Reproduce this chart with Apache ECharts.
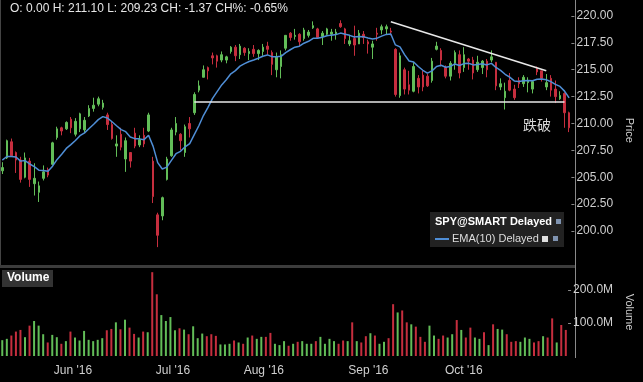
<!DOCTYPE html>
<html><head><meta charset="utf-8">
<script src="https://cdn.jsdelivr.net/npm/echarts@6/dist/echarts.min.js"></script>
<style>html,body{margin:0;padding:0;background:#000;}#c{width:643px;height:382px;}</style>
</head><body><div id="c"></div>
<script>
const dates = [
'2016-05-09','2016-05-10','2016-05-11','2016-05-12','2016-05-13','2016-05-16','2016-05-17','2016-05-18','2016-05-19','2016-05-20','2016-05-23','2016-05-24','2016-05-25','2016-05-26','2016-05-27','2016-05-31',
'2016-06-01','2016-06-02','2016-06-03','2016-06-06','2016-06-07','2016-06-08','2016-06-09','2016-06-10','2016-06-13','2016-06-14','2016-06-15','2016-06-16','2016-06-17','2016-06-20','2016-06-21','2016-06-22','2016-06-23','2016-06-24','2016-06-27','2016-06-28','2016-06-29','2016-06-30',
'2016-07-01','2016-07-05','2016-07-06','2016-07-07','2016-07-08','2016-07-11','2016-07-12','2016-07-13','2016-07-14','2016-07-15','2016-07-18','2016-07-19','2016-07-20','2016-07-21','2016-07-22','2016-07-25','2016-07-26','2016-07-27','2016-07-28','2016-07-29',
'2016-08-01','2016-08-02','2016-08-03','2016-08-04','2016-08-05','2016-08-08','2016-08-09','2016-08-10','2016-08-11','2016-08-12','2016-08-15','2016-08-16','2016-08-17','2016-08-18','2016-08-19','2016-08-22','2016-08-23','2016-08-24','2016-08-25','2016-08-26','2016-08-29','2016-08-30','2016-08-31',
'2016-09-01','2016-09-02','2016-09-06','2016-09-07','2016-09-08','2016-09-09','2016-09-12','2016-09-13','2016-09-14','2016-09-15','2016-09-16','2016-09-19','2016-09-20','2016-09-21','2016-09-22','2016-09-23','2016-09-26','2016-09-27','2016-09-28','2016-09-29','2016-09-30',
'2016-10-03','2016-10-04','2016-10-05','2016-10-06','2016-10-07','2016-10-10','2016-10-11','2016-10-12','2016-10-13','2016-10-14','2016-10-17','2016-10-18','2016-10-19','2016-10-20','2016-10-21','2016-10-24','2016-10-25','2016-10-26','2016-10-27','2016-10-28','2016-10-31',
'2016-11-01','2016-11-02'];

const open = [
205.6,206.8,208.3,207.3,206.6,205.0,206.5,204.4,203.6,204.9,205.7,206.2,208.7,209.6,209.5,210.4,
209.0,209.5,209.4,210.7,211.4,211.8,211.5,210.8,209.9,207.9,209.0,206.7,207.3,209.1,208.0,208.9,209.3,206.5,201.5,201.4,204.8,207.0,
209.2,209.0,207.3,210.0,211.0,213.1,214.3,215.2,216.3,216.3,215.9,215.9,216.7,217.1,216.4,217.0,216.5,216.9,216.5,216.7,
217.2,216.6,215.0,215.3,217.0,218.4,218.1,218.3,217.9,218.2,218.9,218.8,218.1,218.3,218.3,218.3,219.3,218.8,217.4,217.9,217.4,218.3,217.6,
217.1,218.4,218.7,218.8,218.6,216.9,212.6,215.0,213.6,213.0,214.2,214.5,214.4,214.0,216.9,216.8,215.2,214.4,215.6,216.4,215.2,
216.0,215.9,215.0,215.2,215.8,215.9,215.7,213.4,212.4,214.0,213.2,214.0,213.7,213.8,213.2,215.1,214.9,213.4,214.2,213.2,212.3,
212.8,211.0];

const close = [
205.9,208.4,207.0,206.6,204.8,206.8,204.8,204.9,204.2,205.5,205.2,208.2,209.5,209.3,210.1,209.6,
210.2,210.9,210.3,211.4,211.7,212.3,211.9,209.9,208.6,208.1,207.8,208.4,206.5,207.9,208.5,208.1,210.8,203.2,199.6,203.1,206.7,209.4,
210.0,208.4,209.7,209.5,212.7,213.5,215.0,214.9,216.1,215.8,216.4,216.2,217.1,216.3,217.2,216.6,216.7,216.5,216.8,217.1,
216.9,215.5,216.2,216.4,218.2,218.0,218.2,217.6,218.7,218.5,219.1,218.0,218.4,218.8,218.5,218.5,219.0,217.9,217.7,217.3,218.4,218.0,217.4,
217.4,218.3,219.0,219.0,218.5,212.7,216.3,213.2,213.1,215.3,213.4,213.4,213.5,215.8,217.2,215.9,214.4,215.6,216.6,214.7,216.4,
215.8,214.7,215.7,215.8,215.0,216.2,213.5,213.7,213.0,213.1,212.4,213.7,214.3,214.0,213.9,214.8,214.2,213.8,213.1,212.5,212.6,
211.0,209.6];

const high = [
206.4,208.5,208.6,207.4,206.9,207.3,206.8,206.3,204.6,206.1,205.9,208.3,209.7,209.7,210.2,210.6,
210.5,211.0,210.6,211.7,212.4,212.5,212.2,211.0,210.2,208.9,209.6,208.7,207.3,209.6,208.9,209.6,211.0,206.9,201.7,203.2,206.9,209.6,
210.6,209.1,209.9,210.6,212.9,214.0,215.4,215.3,216.6,216.4,216.7,216.3,217.2,217.3,217.4,217.1,217.0,217.3,216.9,217.4,
217.6,216.8,216.6,216.8,218.2,218.5,218.8,218.4,218.9,218.7,219.5,218.9,218.6,218.9,218.8,218.8,219.6,218.9,218.2,219.1,218.7,218.6,217.8,
217.7,218.9,219.2,219.2,218.9,217.0,216.6,215.2,214.9,215.7,214.5,214.9,214.6,216.1,217.6,217.0,215.4,215.8,216.8,216.8,217.1,
216.1,216.2,216.3,215.9,216.0,216.8,215.7,214.2,213.8,214.7,213.6,214.3,214.5,214.3,214.0,215.3,214.9,214.6,214.5,214.0,213.0,
212.9,211.1];

const low = [
205.3,206.7,206.9,205.4,204.5,204.9,204.1,203.3,202.7,204.7,205.0,206.1,208.5,208.9,209.4,209.1,
208.8,209.2,209.1,210.6,211.1,211.6,211.3,209.4,208.5,206.9,207.5,205.5,205.9,207.7,207.8,207.8,209.2,202.6,198.5,201.0,204.7,206.9,
208.9,207.5,206.9,208.7,210.8,212.9,214.3,214.1,215.5,215.2,215.7,215.6,216.5,215.8,216.0,216.3,215.9,216.2,215.9,216.3,
216.4,214.5,214.3,214.2,216.8,217.7,217.8,217.2,217.7,218.0,218.8,217.9,217.3,218.2,217.7,217.8,218.9,217.4,217.2,216.3,217.4,217.4,216.5,
216.0,217.7,218.3,218.3,218.2,212.5,212.4,212.7,212.7,212.9,212.8,213.0,213.4,213.8,216.8,215.3,214.2,214.0,215.0,214.2,214.8,
215.0,214.1,214.8,214.6,214.3,215.7,213.1,213.1,211.3,213.0,212.2,213.3,213.4,212.9,212.8,214.5,213.9,213.1,212.5,211.9,212.2,
209.6,209.2];

// EMA(10)
const ema10 = [
206.6,206.93,206.94,206.88,206.5,206.55,206.23,205.99,205.66,205.63,205.55,206.03,206.66,207.14,207.68,208.03,
208.42,208.87,209.13,209.54,209.93,210.36,210.64,210.51,210.16,209.79,209.43,209.24,208.74,208.59,208.57,208.49,208.91,207.87,206.36,205.77,205.94,206.57,
207.19,207.41,207.83,208.13,208.96,209.79,210.74,211.5,212.34,212.97,213.59,214.07,214.62,214.92,215.34,215.57,215.77,215.91,216.07,216.26,
216.38,216.22,216.21,216.25,216.6,216.86,217.1,217.19,217.47,217.65,217.92,217.93,218.02,218.16,218.22,218.27,218.41,218.31,218.2,218.04,218.1,218.08,217.96,
217.86,217.94,218.13,218.29,218.33,217.31,217.13,216.41,215.81,215.72,215.3,214.95,214.69,214.89,215.31,215.42,215.23,215.3,215.54,215.39,215.57,
215.61,215.45,215.49,215.55,215.45,215.59,215.21,214.94,214.58,214.31,213.96,213.91,213.98,213.99,213.97,214.12,214.14,214.07,213.9,213.64,213.45,
213.01,212.39];

// volume in millions
const volume = [
48,52,62,74,79,57,92,106,92,66,41,64,57,37,45,74,
56,47,76,49,45,49,54,78,82,102,81,110,86,67,56,74,72,254,187,124,106,118,
78,84,80,66,90,54,68,60,66,61,35,35,37,47,41,37,56,62,52,58,
58,70,37,33,45,31,37,43,45,37,37,45,58,37,52,45,37,47,45,102,45,41,60,
69,62,37,43,54,157,132,138,102,96,89,58,43,92,62,52,62,56,66,109,79,
56,86,56,52,72,33,96,82,80,66,43,45,43,56,52,41,45,60,56,114,41,
94,79];

const priceTicks = [200, 202.5, 205, 207.5, 210, 212.5, 215, 217.5, 220];
const volumeTicks = [100, 200];
const monthTickDates = ['2016-06-01','2016-07-01','2016-08-01','2016-09-01','2016-10-03'];
const monthTickLabels = ["Jun '16","Jul '16","Aug '16","Sep '16","Oct '16"];

// annotations: [date, price]
const supportLine = [['2016-07-08', 212.05], ['2016-11-01', 212.05]];
const resistanceLine = [['2016-09-08', 219.47], ['2016-10-26', 214.9]];
const breakNote = ['2016-10-24', 209.86, '跌破'];
const headerText = 'O: 0.00 H: 211.10 L: 209.23 CH: -1.37 CH%: -0.65%';

const UP = '#62bd58', DOWN = '#c62e3e';
const FONT = '"Liberation Sans", Arial, sans-serif';

const candleData = dates.map((d, i) => [open[i], close[i], low[i], high[i]]);
const volData = volume.map((v, i) => ({value: v, itemStyle: {color: close[i] >= open[i] ? UP : DOWN}}));

const chart = echarts.init(document.getElementById('c'), null, {renderer: 'canvas'});
chart.setOption({
  backgroundColor: '#000',
  animation: false,
  textStyle: {fontFamily: FONT},
  grid: [
    {left: 0, right: 68, top: 2.56, height: 255.31},
    {left: 0, right: 68, top: 268, height: 88}
  ],
  xAxis: [
    {type: 'category', gridIndex: 0, data: dates, boundaryGap: true,
     axisLine: {show: false}, axisTick: {show: false}, axisLabel: {show: false}, splitLine: {show: false}},
    {type: 'category', gridIndex: 1, data: dates, boundaryGap: true,
     axisLine: {show: false}, axisTick: {show: false}, splitLine: {show: false},
     axisLabel: {
       show: true, color: '#cfcfcf', fontSize: 12, fontFamily: FONT, margin: 9, padding: [0, 4, 0, 0],
       interval: (idx, val) => monthTickDates.indexOf(val) >= 0,
       formatter: (val) => { const k = monthTickDates.indexOf(val); return k >= 0 ? monthTickLabels[k] : ''; }
     }}
  ],
  yAxis: [
    {type: 'value', gridIndex: 0, position: 'right', min: 197.5, max: 221.25, interval: 2.5,
     axisLine: {show: false}, splitLine: {show: false},
     axisTick: {show: true, length: 3, lineStyle: {color: '#8a8a8a'}, customValues: priceTicks},
     axisLabel: {color: '#cfcfcf', fontSize: 12, fontFamily: FONT, margin: 5, customValues: priceTicks,
       formatter: v => (v >= 200 && v <= 220) ? v.toFixed(2) : ''},
     name: 'Price', nameLocation: 'middle', nameRotate: -90, nameGap: 50,
     nameTextStyle: {color: '#cfcfcf', fontSize: 11, fontFamily: FONT}},
    {type: 'value', gridIndex: 1, position: 'right', min: 0, max: 266.67, interval: 100,
     axisLine: {show: false}, splitLine: {show: false},
     axisTick: {show: true, length: 3, lineStyle: {color: '#8a8a8a'}, customValues: volumeTicks},
     axisLabel: {color: '#cfcfcf', fontSize: 12, fontFamily: FONT, margin: 5, customValues: volumeTicks,
       formatter: v => (v === 100 || v === 200) ? v.toFixed(1) + 'M' : ''},
     name: 'Volume', nameLocation: 'middle', nameRotate: -90, nameGap: 50,
     nameTextStyle: {color: '#cfcfcf', fontSize: 11, fontFamily: FONT}}
  ],
  series: [
    {type: 'candlestick', xAxisIndex: 0, yAxisIndex: 0, data: candleData, barWidth: 2,
     itemStyle: {color: UP, color0: DOWN, borderColor: UP, borderColor0: DOWN, borderWidth: 1},
     markLine: {silent: true, symbol: ['none', 'none'], label: {show: false},
       lineStyle: {color: '#e8e8e8', width: 1.5, type: 'solid'},
       emphasis: {disabled: true},
       data: [
         [{coord: supportLine[0]}, {coord: supportLine[1]}],
         [{coord: resistanceLine[0]}, {coord: resistanceLine[1]}]
       ]},
     markPoint: {silent: true, symbol: 'rect', symbolSize: 1, itemStyle: {color: 'rgba(0,0,0,0)'},
       label: {show: true, position: 'inside', formatter: breakNote[2], color: '#d8d8d8', fontSize: 14,
         fontFamily: '"Noto Sans CJK SC", sans-serif'},
       data: [{coord: [breakNote[0], breakNote[1]]}]}
    },
    {type: 'line', xAxisIndex: 0, yAxisIndex: 0, data: ema10, symbol: 'none', smooth: false,
     lineStyle: {color: '#4f8ed6', width: 1.5}, z: 3},
    {type: 'bar', xAxisIndex: 1, yAxisIndex: 1, data: volData, barWidth: 2}
  ],
  graphic: [
    {type: 'text', left: 10, top: 3, style: {text: headerText, fill: '#e6e6e6', font: '12px ' + FONT}},
    {type: 'rect', shape: {x: 0, y: 265, width: 575, height: 3}, style: {fill: '#3c3c3c'}},
    {type: 'line', shape: {x1: 0.5, y1: 0, x2: 0.5, y2: 265}, style: {stroke: '#444', lineWidth: 1}},
    {type: 'line', shape: {x1: 575.5, y1: 0, x2: 575.5, y2: 358}, style: {stroke: '#8a8a8a', lineWidth: 1}},
    {type: 'rect', shape: {x: 2, y: 270, width: 51, height: 17}, style: {fill: '#333'}},
    {type: 'text', left: 7, top: 272, style: {text: 'Volume', fill: '#fff', font: 'bold 12px ' + FONT}},
    {type: 'rect', shape: {x: 430, y: 212, width: 134, height: 35}, style: {fill: '#222222'}},
    {type: 'text', left: 435, top: 216, style: {text: 'SPY@SMART Delayed', fill: '#ffffff', font: 'bold 11px ' + FONT}},
    {type: 'polygon', shape: {points: [[556,219],[561,219],[561,224],[556,224]]}, style: {fill: '#7f93b0'}},
    {type: 'line', shape: {x1: 435, y1: 239, x2: 449, y2: 239}, style: {stroke: '#4f8ed6', lineWidth: 2}},
    {type: 'text', left: 452, top: 233, style: {text: 'EMA(10) Delayed', fill: '#dddddd', font: '11px ' + FONT}},
    {type: 'rect', shape: {x: 542, y: 236, width: 6, height: 6}, style: {fill: '#e0e0e0'}},
    {type: 'polygon', shape: {points: [[553,236],[558,236],[558,241],[553,241]]}, style: {fill: '#7f93b0'}}
  ]
});
</script></body></html>
